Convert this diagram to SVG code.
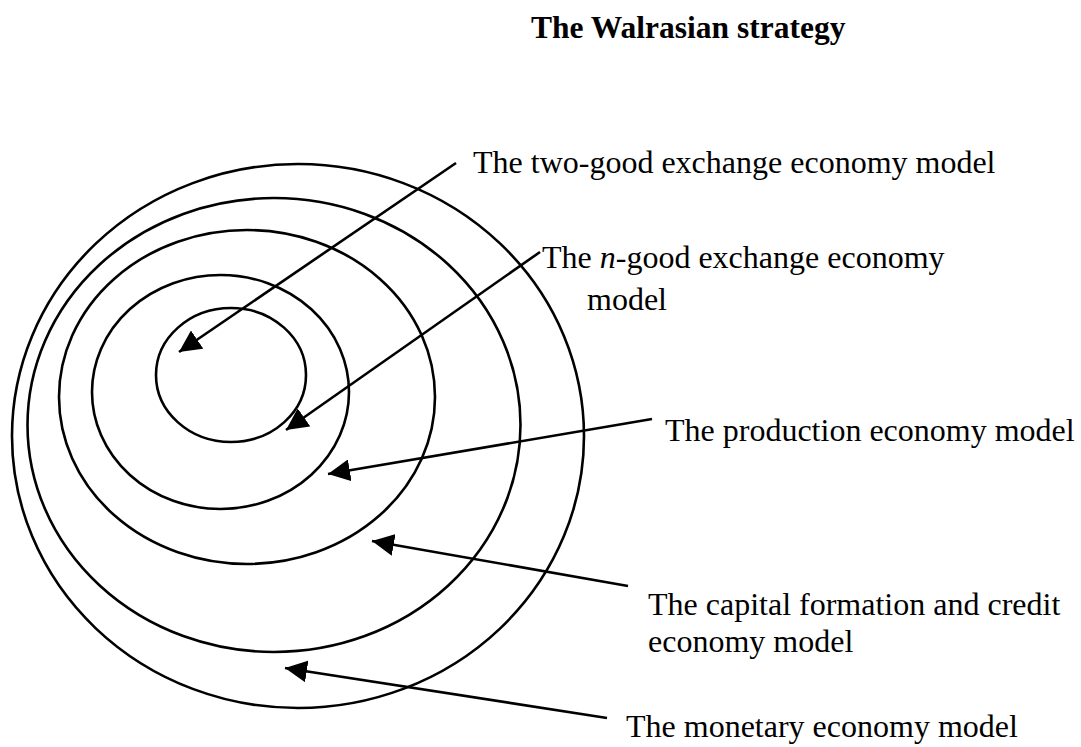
<svg xmlns="http://www.w3.org/2000/svg" width="1081" height="747" viewBox="0 0 1081 747">
<defs>
<style>
.ring{fill:none;stroke:#000;stroke-width:2.6}
.conn{fill:none;stroke:#000;stroke-width:2.6;marker-end:url(#ah)}
.lbl{font-family:"Liberation Serif","Times New Roman",serif;font-size:32px;fill:#000}
.title{font-family:"Liberation Serif","Times New Roman",serif;font-size:31.5px;font-weight:bold;fill:#000}
</style>
<marker id="ah" markerUnits="userSpaceOnUse" markerWidth="24" markerHeight="22" refX="22" refY="11" orient="auto">
<path d="M0,0 L22,11 L0,22 Z" fill="#000"/>
</marker>
</defs>
<rect width="1081" height="747" fill="#fff"/>
<text class="title" x="531" y="38">The Walrasian strategy</text>
<g id="ring-monetary"><ellipse class="ring" cx="298" cy="436" rx="286" ry="272"/></g>
<g id="ring-capital"><ellipse class="ring" cx="274" cy="425" rx="246.5" ry="227"/></g>
<g id="ring-production"><ellipse class="ring" cx="247" cy="397" rx="188" ry="167"/></g>
<g id="ring-ngood"><ellipse class="ring" cx="220.5" cy="392" rx="128.5" ry="117"/></g>
<g id="ring-twogood"><ellipse class="ring" cx="231" cy="375" rx="75" ry="67"/></g>
<g id="label-twogood"><text class="lbl" x="473" y="173">The two-good exchange economy model</text></g>
<g id="label-ngood"><text class="lbl" x="542" y="268">The <tspan font-style="italic">n</tspan>-good exchange economy</text><text class="lbl" x="587" y="310">model</text></g>
<g id="label-production"><text class="lbl" x="665" y="441">The production economy model</text></g>
<g id="label-capital"><text class="lbl" x="648" y="615">The capital formation and credit</text><text class="lbl" x="648" y="652">economy model</text></g>
<g id="label-monetary"><text class="lbl" x="626" y="737">The monetary economy model</text></g>
<g id="connectors">
<line class="conn" x1="456" y1="163" x2="179" y2="352"/>
<line class="conn" x1="540" y1="252" x2="286" y2="430"/>
<line class="conn" x1="652" y1="419" x2="328" y2="474"/>
<line class="conn" x1="628" y1="586" x2="372" y2="541"/>
<line class="conn" x1="607" y1="718" x2="285" y2="668"/>
</g>
</svg>
